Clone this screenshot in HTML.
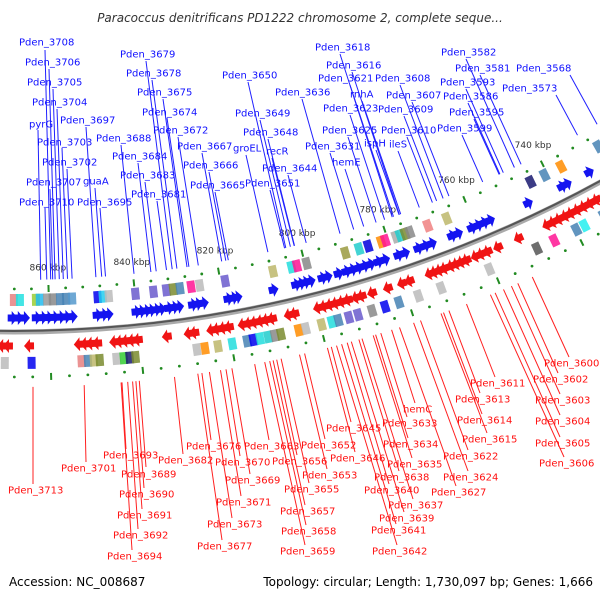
<!DOCTYPE html>
<html><head><meta charset="utf-8"><style>
html,body{margin:0;padding:0;background:#fff;}
svg{display:block;font-family:"DejaVu Sans","Liberation Sans",sans-serif;}
</style></head><body>
<svg id="chart" width="600" height="600" viewBox="0 0 600 600" xmlns="http://www.w3.org/2000/svg">
<rect x="0" y="0" width="600" height="600" fill="#fff"/>
<text x="300" y="22" text-anchor="middle" font-size="12" font-style="italic" fill="#333">Paracoccus denitrificans PD1222 chromosome 2, complete seque...</text>
<g id="ticks"></g>
<g id="lines"></g>
<g id="boxes"></g>
<g id="arrows"></g>
<g id="backbone"></g>
<g id="labels"></g>
<text x="9" y="586" font-size="12" fill="#000">Accession: NC_008687</text>
<text x="593" y="586" text-anchor="end" font-size="12" fill="#000">Topology: circular; Length: 1,730,097 bp; Genes: 1,666</text>
</svg>
<script>
const tickKbp=[740,760,780,800,820,840,860];
const fwdGenes=[868.6,867.2,865.8,863.1,861.7,860.4,859.0,857.6,856.3,854.9,849.2,847.8,846.7,840.3,839.2,838.0,836.9,835.7,834.6,832.8,831.6,830.5,827.3,826.2,824.8,819.1,817.9,817.0,808.6,803.3,802.2,801.1,799.9,797.1,795.9,793.3,791.4,790.0,788.6,787.1,785.7,783.8,782.2,779.0,777.4,774.2,772.5,770.9,766.0,764.5,761.1,759.6,758.1,756.6,747.1,738.5,737.2,731.5];
const revGenes=[870.5,869.2,864.5,853.4,852.0,850.7,849.3,845.5,844.2,842.9,841.5,840.2,833.7,828.8,827.5,823.7,822.4,821.0,819.7,816.6,815.2,813.9,812.5,811.2,809.9,806.1,804.8,799.4,798.0,796.6,795.3,793.9,792.5,790.6,789.3,786.9,783.2,779.9,778.1,773.4,772.2,771.0,769.8,768.2,767.0,765.8,764.6,762.4,761.0,759.5,757,752,745,743.5,742,740.4,739,737.4,735.8,734.2,732.6];
const innerBoxKbp=[868.1,866.7,863.0,862.1,860.4,859.1,857.4,856.0,854.6,848.7,847.5,846.1,839.9,835.7,832.7,831.1,829.5,826.9,824.9,818.9,807.6,803.2,801.9,799.6,790.3,787.0,784.8,781.6,780.6,778.0,777.0,775.8,774.6,770.2,765.5,744.3,740.7,736.4,726.6];
const innerBoxColor=["#e88080","#22e0e0","#9acd32","#22bbee","#999","#888","#4682b4","#4682b4","#5599cc","#0000ee","#22ccee","#bbb","#6a5acd","#6a5acd","#6a5acd","#7a8b2f","#4682b4","#ff1493","#bbb","#6a5acd","#bdb76b","#22dddd","#ff1493","#888","#9a9a40","#22cccc","#0000dd","#ff8c00","#ff1493","#aaa","#22cccc","#7a8b2f","#888","#f08080","#bdb76b","#191970","#4682b4","#ff8c00","#4682b4"];
const outerBoxKbp=[870.1,864.2,853.2,851.8,850.5,849.2,845.5,843.9,842.6,841.3,827.7,825.9,823.0,819.8,816.5,815.1,813.6,811.8,810.3,808.9,804.9,803.3,799.7,797.4,795.9,793.5,791.4,788.2,785.2,782.0,777.5,772.2,760.8,749.4,745.2,739.8,737.8,733];
const outerBoxColor=["#bbb","#0000ee","#e88080","#4682b4","#bdb76b","#7a8b2f","#bbb","#32cd32","#191970","#7a8b2f","#bbb","#ff8c00","#bdb76b","#22dddd","#4682b4","#0000ee","#22dddd","#22cccc","#888","#7a8b2f","#ff8c00","#bbb","#bdb76b","#22dddd","#4682b4","#6a5acd","#6a5acd","#888","#0000ee","#4682b4","#bbb","#bbb","#bbb","#555","#ff1493","#4682b4","#22eeee","#4682b4"];
const blueLabels=[["Pden_3708",19,42,45,50],["Pden_3706",25,62,49,69],["Pden_3705",27,82,53,89],["Pden_3704",32,102,57,109],["pyrG",29,124,38,130],["Pden_3697",60,120,86,127],["Pden_3703",37,142,62,148],["Pden_3702",42,162,67,169],["Pden_3707",26,182,50,189],["guaA",83,181,95,188],["Pden_3710",19,202,45,208],["Pden_3695",77,202,100,208],["Pden_3679",120,54,146,61],["Pden_3678",126,73,152,80],["Pden_3675",137,92,163,99],["Pden_3674",142,112,167,118],["Pden_3672",153,130,178,137],["Pden_3688",96,138,121,145],["Pden_3667",177,146,202,153],["Pden_3684",112,156,138,163],["Pden_3666",183,165,209,172],["Pden_3683",120,175,145,182],["Pden_3665",190,185,215,192],["Pden_3681",131,194,157,201],["Pden_3650",222,75,248,82],["Pden_3649",235,113,260,120],["Pden_3648",243,132,268,139],["groEL",233,148,246,155],["recR",266,151,272,158],["Pden_3651",245,183,270,190],["Pden_3644",262,168,288,175],["Pden_3636",275,92,302,99],["Pden_3618",315,47,340,54],["Pden_3616",326,65,352,72],["Pden_3621",318,78,350,85],["rnhA",350,94,362,101],["Pden_3623",323,108,350,115],["Pden_3625",322,130,348,137],["Pden_3631",305,146,330,153],["ispH",364,143,376,150],["hemE",332,162,345,169],["ileS",389,144,398,151],["Pden_3608",375,78,400,85],["Pden_3607",386,95,412,102],["Pden_3609",378,109,404,116],["Pden_3610",381,130,407,137],["Pden_3582",441,52,466,59],["Pden_3581",455,68,480,75],["Pden_3593",440,82,466,89],["Pden_3586",443,96,468,103],["Pden_3595",449,112,474,119],["Pden_3599",437,128,462,135],["Pden_3568",516,68,570,75],["Pden_3573",502,88,556,95]];
const redLabels=[["Pden_3713",8,490,33,484],["Pden_3701",61,468,86,462],["Pden_3693",103,455,126,449],["Pden_3689",121,474,146,467],["Pden_3690",119,494,144,488],["Pden_3691",117,515,142,509],["Pden_3692",113,535,138,529],["Pden_3694",107,556,132,550],["Pden_3682",158,460,183,454],["Pden_3676",186,446,211,440],["Pden_3670",215,462,240,456],["Pden_3669",225,480,250,474],["Pden_3671",216,502,241,496],["Pden_3673",207,524,232,518],["Pden_3677",197,546,222,540],["Pden_3663",244,446,269,440],["Pden_3656",272,461,297,455],["Pden_3652",301,445,325,439],["Pden_3653",302,475,327,469],["Pden_3655",284,489,309,483],["Pden_3657",280,511,305,505],["Pden_3658",281,531,306,525],["Pden_3659",280,551,305,545],["Pden_3645",326,428,351,422],["Pden_3646",330,458,355,452],["hemC",403,409,415,403],["Pden_3633",382,423,407,417],["Pden_3634",383,444,408,438],["Pden_3635",387,464,412,458],["Pden_3638",374,477,399,471],["Pden_3640",364,490,389,484],["Pden_3637",388,505,413,499],["Pden_3639",379,518,404,512],["Pden_3641",371,530,396,524],["Pden_3642",372,551,397,545],["Pden_3622",443,456,468,450],["Pden_3624",443,477,468,471],["Pden_3627",431,492,456,486],["Pden_3611",470,383,495,377],["Pden_3613",455,399,480,393],["Pden_3614",457,420,482,414],["Pden_3615",462,439,487,433],["Pden_3600",544,363,569,357],["Pden_3602",533,379,558,373],["Pden_3603",535,400,560,394],["Pden_3604",535,421,560,415],["Pden_3605",535,443,560,437],["Pden_3606",539,463,564,457]];

const NS="http://www.w3.org/2000/svg";
const CX=14,CY=-889,R=1221;
function phi(k){return (1.68+(860-k)*360/1730.097)*Math.PI/180;}
function pt(k,r){const a=phi(k);return [CX+r*Math.sin(a),CY+r*Math.cos(a)];}
function tf(k,r){const p=pt(k,r);return "translate("+p[0].toFixed(2)+","+p[1].toFixed(2)+") rotate("+(-phi(k)*180/Math.PI).toFixed(3)+")";}
function mk(tag,attrs,parent){const e=document.createElementNS(NS,tag);for(const a in attrs)e.setAttribute(a,attrs[a]);parent.appendChild(e);return e;}
const gT=document.getElementById('ticks'),gL=document.getElementById('lines'),gB=document.getElementById('boxes'),gA=document.getElementById('arrows'),gBk=document.getElementById('backbone'),gLb=document.getElementById('labels');

for(let k=728;k<=876;k+=4){
  [R-43,R+45].forEach(function(r){
    let e;
    if(k%20===0){e=mk('rect',{x:-1,y:-3.5,width:2,height:7,fill:'#228b22',transform:tf(k,r)},gT);
      }
    else{const p=pt(k,r);e=mk('circle',{cx:p[0].toFixed(2),cy:p[1].toFixed(2),r:1.4,fill:'#228b22'},gT);
      }
    
  });
}
tickKbp.forEach(function(k){
  const p=pt(k,R-64);
  const t=mk('text',{x:p[0].toFixed(1),y:(p[1]+3).toFixed(1),'text-anchor':'middle','font-size':'9',fill:'#333'},gT);
  t.textContent=k+" kbp";
  
  
});

const bb1=mk('circle',{cx:CX,cy:CY,r:R,fill:'none',stroke:'#aaa','stroke-width':5},gBk);


const bb2=mk('circle',{cx:CX,cy:CY,r:R-1,fill:'none',stroke:'#555','stroke-width':2},gBk);



innerBoxKbp.forEach(function(k,i){
  const e=mk('rect',{x:-4,y:-6,width:8,height:12,fill:innerBoxColor[i],opacity:0.85,transform:tf(k,R-32)},gB);
  
  
});
outerBoxKbp.forEach(function(k,i){
  const e=mk('rect',{x:-4,y:-6,width:8,height:12,fill:outerBoxColor[i],opacity:0.85,transform:tf(k,R+31)},gB);
  
  
});

const fwdShape="-4,-3.5 0,-3.5 0,-7 6,0 0,7 0,3.5 -4,3.5";
const revShape="4,-3.5 0,-3.5 0,-7 -6,0 0,7 0,3.5 4,3.5";
fwdGenes.forEach(function(k){
  const e=mk('polygon',{points:fwdShape,fill:'#1414f0',transform:tf(k,R-14)},gA);
  
  
});
revGenes.forEach(function(k){
  const e=mk('polygon',{points:revShape,fill:'#f01414',transform:tf(k,R+14)},gA);
  
  
});

function hit(x0,y0,dx,dy,r){
  const n=Math.hypot(dx,dy);dx/=n;dy/=n;
  const fx=x0-CX,fy=y0-CY;
  const b=fx*dx+fy*dy,c=fx*fx+fy*fy-r*r;
  const disc=b*b-c; if(disc<0)return [x0,y0];
  let t=-b+Math.sqrt(disc); if(c>0) t=-b-Math.sqrt(disc);
  return [x0+t*dx,y0+t*dy];
}
blueLabels.forEach(function(L){
  const s=Math.max(0,0.02+0.001*(L[3]-40));
  const e2=hit(L[3],L[4],s,1,R-52);
  const ln=mk('line',{x1:L[3],y1:L[4],x2:e2[0].toFixed(1),y2:e2[1].toFixed(1),stroke:'#2020ff','stroke-width':1},gL);
  
  
  const t=mk('text',{x:L[1],y:L[2]+3.5,'font-size':'10',fill:'#1010ff'},gLb);
  t.textContent=L[0];
  
  
});
redLabels.forEach(function(L){
  const s=Math.max(0,0.0009*(L[3]-60));
  const e2=hit(L[3],L[4],-s,-1,R+55);
  const ln=mk('line',{x1:L[3],y1:L[4],x2:e2[0].toFixed(1),y2:e2[1].toFixed(1),stroke:'#ff2020','stroke-width':1},gL);
  
  
  const t=mk('text',{x:L[1],y:L[2]+3.5,'font-size':'10',fill:'#ff1010'},gLb);
  t.textContent=L[0];
  
  
});
</script>
</body></html>
